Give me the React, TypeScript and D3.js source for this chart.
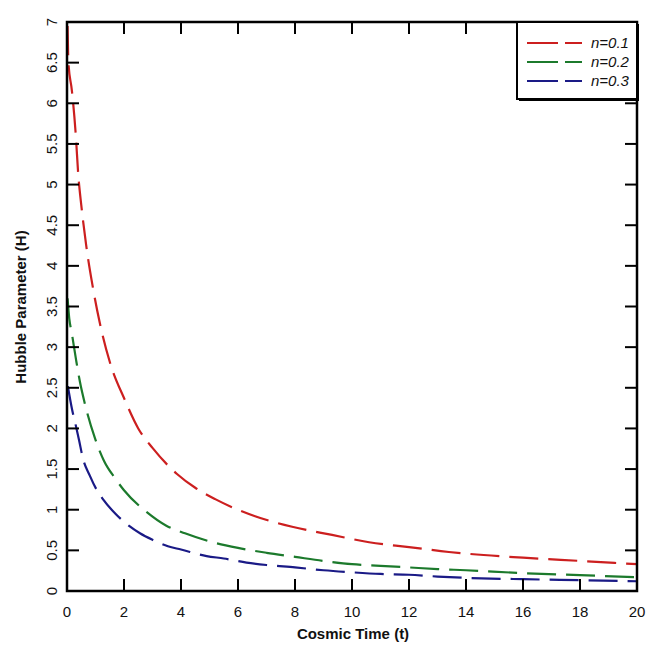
import React from "react";
import * as d3 from "d3";

const xTicks = [0, 2, 4, 6, 8, 10, 12, 14, 16, 18, 20];
const yTicks = [0, 0.5, 1, 1.5, 2, 2.5, 3, 3.5, 4, 4.5, 5, 5.5, 6, 6.5, 7];

const redT = [0.02, 0.05, 0.17, 0.3, 0.4, 0.5, 0.67, 0.9, 1.15, 1.5, 2.03, 2.5, 3.0, 3.86, 4.5, 5.2, 6.6, 7.9, 9.3, 10.6, 12.0, 13.4, 16.0, 18.0, 20.0];
const redH = [6.95, 6.5, 6.16, 5.65, 5.1, 4.75, 4.26, 3.75, 3.3, 2.82, 2.35, 2.0, 1.76, 1.44, 1.27, 1.13, 0.92, 0.79, 0.69, 0.6, 0.54, 0.48, 0.41, 0.37, 0.33];

const greenT = [0.02, 0.08, 0.16, 0.32, 0.45, 0.63, 0.98, 1.3, 1.68, 2.0, 2.8, 3.5, 4.14, 5.0, 6.0, 7.0, 8.0, 9.0, 10, 11, 12, 13, 14, 16, 18, 20];
const greenH = [3.6, 3.35, 3.19, 2.84, 2.58, 2.3, 1.88, 1.6, 1.39, 1.24, 0.97, 0.8, 0.71, 0.61, 0.53, 0.47, 0.42, 0.37, 0.33, 0.31, 0.29, 0.27, 0.255, 0.22, 0.195, 0.17];

const blueT = [0.03, 0.18, 0.3, 0.42, 0.56, 0.8, 1.05, 1.26, 1.7, 2.18, 2.56, 3.0, 3.54, 4.0, 4.9, 5.5, 6.3, 7.0, 8.0, 9.0, 10, 11, 12, 13, 14, 16, 18, 20];
const blueH = [2.52, 2.23, 2.05, 1.86, 1.63, 1.42, 1.24, 1.13, 0.95, 0.8, 0.71, 0.63, 0.55, 0.51, 0.43, 0.4, 0.35, 0.32, 0.29, 0.255, 0.23, 0.21, 0.2, 0.178, 0.162, 0.145, 0.133, 0.12];

const seriesNames = ["n=0.1", "n=0.2", "n=0.3"];
const seriesColors = ["#cc1f1f", "#1c7a2c", "#1a1a86"];

const W = 652;
const H = 649;
const L = 67, R = 637, T = 22, B = 591;

export default function App() {
  const x = d3.scaleLinear().domain([0, 20]).range([L, R]);
  const y = d3.scaleLinear().domain([0, 7]).range([B, T]);
  const line = d3
    .line<[number, number]>()
    .x((d) => x(d[0]))
    .y((d) => y(d[1]))
    .curve(d3.curveMonotoneX);

  const series = [
    redT.map((t, i) => [t, redH[i]] as [number, number]),
    greenT.map((t, i) => [t, greenH[i]] as [number, number]),
    blueT.map((t, i) => [t, blueH[i]] as [number, number]),
  ];

  const font = "'Liberation Sans', Arial, sans-serif";
  const tickLen = 12;

  return (
    <svg
      width={W}
      height={H}
      style={{ position: "absolute", left: 0, top: 0, background: "#fff" }}
      fontFamily={font}
    >
      <defs>
        <clipPath id="plot">
          <rect x={L} y={T} width={R - L} height={B - T} />
        </clipPath>
      </defs>
      <rect x={0} y={0} width={W} height={H} fill="#fff" />

      <g clipPath="url(#plot)">
        {series.map((s, i) => (
          <path
            key={i}
            d={line(s) || ""}
            fill="none"
            stroke={seriesColors[i]}
            strokeWidth={2.2}
            strokeDasharray="29,10"
          />
        ))}
      </g>

      {/* ticks */}
      {xTicks.map((t) => (
        <g key={"x" + t}>
          <line x1={x(t)} x2={x(t)} y1={B} y2={B - tickLen} stroke="#000" strokeWidth={2} />
          <line x1={x(t)} x2={x(t)} y1={T} y2={T + tickLen} stroke="#000" strokeWidth={2} />
          <text x={x(t)} y={617} textAnchor="middle" fontSize={15} fill="#111">
            {t}
          </text>
        </g>
      ))}
      {yTicks.map((v) => (
        <g key={"y" + v}>
          <line x1={L} x2={L + tickLen} y1={y(v)} y2={y(v)} stroke="#000" strokeWidth={2} />
          <line x1={R} x2={R - tickLen} y1={y(v)} y2={y(v)} stroke="#000" strokeWidth={2} />
          <text
            transform={`translate(57,${y(v)}) rotate(-90)`}
            textAnchor="middle"
            fontSize={15}
            fill="#111"
          >
            {v}
          </text>
        </g>
      ))}

      <rect x={L} y={T} width={R - L} height={B - T} fill="none" stroke="#000" strokeWidth={2.5} />

      {/* axis titles */}
      <text x={353} y={639} textAnchor="middle" fontSize={15} fontWeight="bold" fill="#111">
        Cosmic Time (t)
      </text>
      <text
        transform={`translate(26,307) rotate(-90)`}
        textAnchor="middle"
        fontSize={15}
        fontWeight="bold"
        fill="#111"
      >
        Hubble Parameter (H)
      </text>

      {/* legend */}
      <g>
        <rect x={519} y={24} width={120} height={77} fill="#000" />
        <rect x={517} y={22} width={120} height={77} fill="#fff" stroke="#000" strokeWidth={2} />
        {seriesNames.map((n, i) => (
          <g key={n}>
            <line
              x1={527}
              x2={582}
              y1={43 + i * 19}
              y2={43 + i * 19}
              stroke={seriesColors[i]}
              strokeWidth={2.2}
              strokeDasharray="31,7"
            />
            <text x={591} y={48 + i * 19} fontSize={15} fontStyle="italic" fill="#111">
              {n}
            </text>
          </g>
        ))}
      </g>
    </svg>
  );
}
